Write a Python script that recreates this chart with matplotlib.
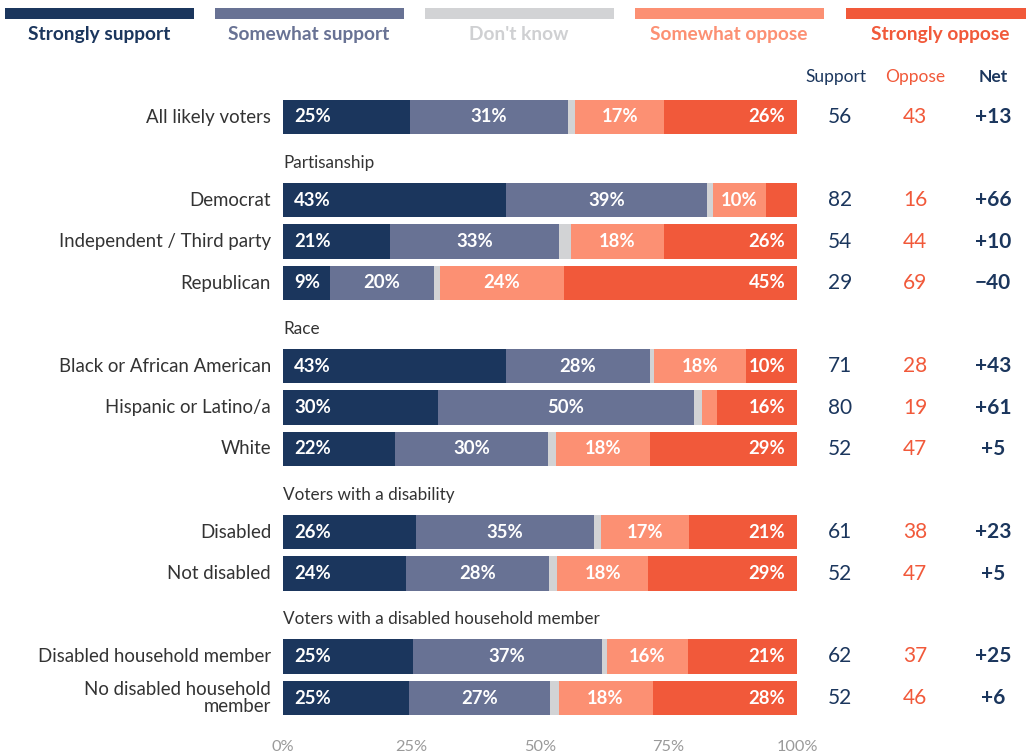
import matplotlib
matplotlib.use("Agg")
import matplotlib.pyplot as plt
from matplotlib import transforms
from matplotlib.patches import Rectangle

plt.rcParams['font.family'] = ['Lato', 'DejaVu Sans']

# rows in display order; None marks a group header line
rows = ["All likely voters",
        None,
        "Democrat", "Independent / Third party", "Republican",
        None,
        "Black or African American", "Hispanic or Latino/a", "White",
        None,
        "Disabled", "Not disabled",
        None,
        "Disabled household member", "No disabled household\nmember"]
headers = ["Partisanship", "Race", "Voters with a disability",
           "Voters with a disabled household member"]

categories = ["Strongly support", "Somewhat support", "Don't know",
              "Somewhat oppose", "Strongly oppose"]

# segment shares (%) per data row
strongly_support = [24.7, 43.4, 20.8, 9.1, 43.4, 30.1, 21.8, 25.9, 23.9, 25.2, 24.6]
somewhat_support = [30.7, 39.0, 32.9, 20.3, 28.0, 49.9, 29.8, 34.6, 27.9, 36.8, 27.4]
dont_know = [1.4, 1.2, 2.3, 1.2, 0.8, 1.6, 1.5, 1.4, 1.6, 1.0, 1.6]
somewhat_oppose = [17.4, 10.4, 18.1, 24.0, 17.8, 2.8, 18.3, 17.1, 17.6, 15.7, 18.3]
strongly_oppose = [25.8, 6.0, 25.9, 45.4, 10.0, 15.6, 28.6, 21.0, 29.0, 21.3, 28.1]

support = [56, 82, 54, 29, 71, 80, 52, 61, 52, 62, 52]
oppose = [43, 16, 44, 69, 28, 19, 47, 38, 47, 37, 46]

colors = ["#1b365d", "#687294", "#d2d3d5", "#fc9073", "#f1593a"]
label_colors = ["#1b365d", "#687294", "#cfd0d2", "#fc9073", "#f1593a"]
text_dark = "#333333"

W, H = 1026, 753
fig = plt.figure(figsize=(W / 100, H / 100), dpi=100)
ax = fig.add_axes([283 / W, 1 - 718.75 / H, 514 / W, (718.75 - 96.25) / H])

series = [strongly_support, somewhat_support, dont_know, somewhat_oppose, strongly_oppose]
data_slots = [i for i, r in enumerate(rows) if r is not None]
header_slots = [i for i, r in enumerate(rows) if r is None]

for j, slot in enumerate(data_slots):
    left = 0
    for k, s in enumerate(series):
        v = s[j]
        ax.barh(slot, v, left=left, height=0.82, color=colors[k], edgecolor="none")
        if k != 2 and v >= 8:
            lab = f"{v:.0f}%"
            if k == 0:
                ax.text(left + 2.2, slot, lab, ha="left", va="center",
                        color="white", fontsize=13.3, fontweight="bold")
            elif k == 4:
                ax.text(left + v - 2.3, slot, lab, ha="right", va="center",
                        color="white", fontsize=13.3, fontweight="bold")
            else:
                ax.text(left + v / 2, slot, lab, ha="center", va="center",
                        color="white", fontsize=13.3, fontweight="bold")
        left += v

ax.set_xlim(0, 100)
ax.set_ylim(14.5, -0.5)
ax.set_xticks([0, 25, 50, 75, 100])
ax.set_xticklabels(["0%", "25%", "50%", "75%", "100%"], color="#9a9a9a", fontsize=11.8)
ax.tick_params(axis="x", length=0, pad=15)
ax.set_yticks([])
for sp in ax.spines.values():
    sp.set_visible(False)

# row labels and group headers
tr = transforms.blended_transform_factory(fig.transFigure, ax.transData)
for slot in data_slots:
    ax.text(271 / W, slot, rows[slot], transform=tr, ha="right", va="center",
            color=text_dark, fontsize=13.4, linespacing=1.02)
for slot, h in zip(header_slots, headers):
    ax.text(283 / W, slot + 0.1, h, transform=tr, ha="left", va="center",
            color=text_dark, fontsize=12.3)

# support / oppose / net columns
ax.text(836 / W, -0.97, "Support", transform=tr, ha="center", va="center",
        color="#1b365d", fontsize=12.5)
ax.text(915 / W, -0.97, "Oppose", transform=tr, ha="center", va="center",
        color="#f1593a", fontsize=12.5)
ax.text(993 / W, -0.97, "Net", transform=tr, ha="center", va="center",
        color="#1b365d", fontsize=12.5, fontweight="bold")
for j, slot in enumerate(data_slots):
    net = support[j] - oppose[j]
    net_txt = f"+{net}" if net >= 0 else f"\u2212{abs(net)}"
    ax.text(840 / W, slot, str(support[j]), transform=tr, ha="center", va="center",
            color="#1b365d", fontsize=15)
    ax.text(915 / W, slot, str(oppose[j]), transform=tr, ha="center", va="center",
            color="#f1593a", fontsize=15)
    ax.text(993 / W, slot, net_txt, transform=tr, ha="center", va="center",
            color="#1b365d", fontsize=15, fontweight="bold")

# legend across the top
leg_x = [5, 215, 425, 635, 846]
leg_w = 189
for k, name in enumerate(categories):
    fig.add_artist(Rectangle((leg_x[k] / W, 1 - 19 / H), leg_w / W, 11 / H,
                             transform=fig.transFigure, color=colors[k], lw=0))
    fig.text((leg_x[k] + 94) / W, 1 - 34.5 / H, name, ha="center", va="center",
             color=label_colors[k], fontsize=13.8, fontweight="bold")

fig.savefig("out.png", dpi=100)
